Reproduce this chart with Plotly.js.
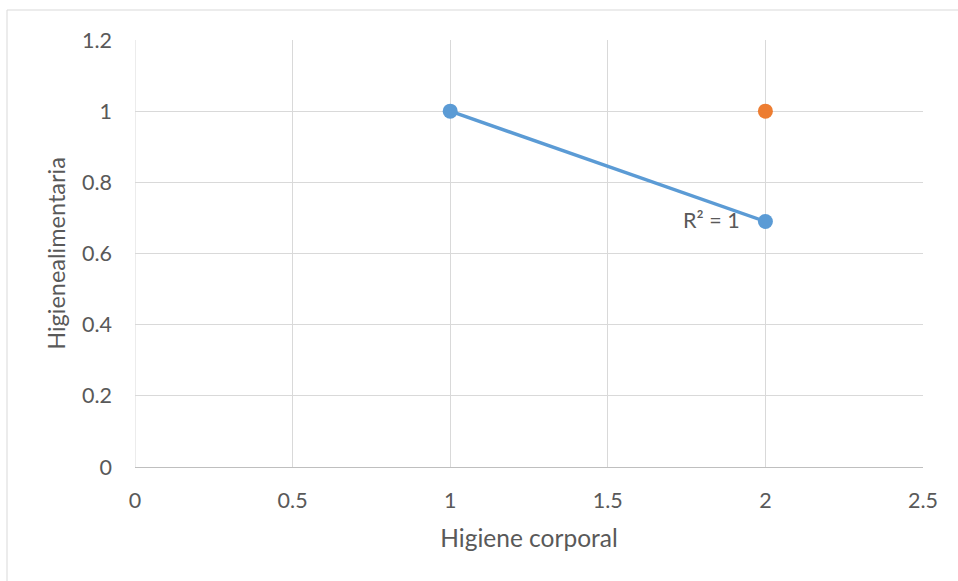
<!DOCTYPE html>
<html>
<head>
<meta charset="utf-8">
<script src="https://cdn.plot.ly/plotly-3.0.1.min.js"></script>
<style>
html,body{margin:0;padding:0;background:#fff;}
#chart{width:958px;height:581px;}
</style>
</head>
<body>
<div id="chart"></div>
<script>
// Data
const blueX = [1, 2];
const blueY = [1, 0.69];
const orangeX = [2];
const orangeY = [1];
const xTicks = [0, 0.5, 1, 1.5, 2, 2.5];
const yTicks = [0, 0.2, 0.4, 0.6, 0.8, 1, 1.2];
const xTitle = "Higiene corporal";
const yTitle = "Higienealimentaria";
const r2Label = "R² = 1";

// Linear trendline from blue data
function linfit(xs, ys) {
  const n = xs.length;
  const mx = xs.reduce((a, b) => a + b, 0) / n;
  const my = ys.reduce((a, b) => a + b, 0) / n;
  let sxy = 0, sxx = 0;
  for (let i = 0; i < n; i++) { sxy += (xs[i] - mx) * (ys[i] - my); sxx += (xs[i] - mx) ** 2; }
  const m = sxy / sxx;
  return { m: m, b: my - m * mx };
}
const fit = linfit(blueX, blueY);
const tX = [Math.min(...blueX), Math.max(...blueX)];
const tY = tX.map(x => fit.m * x + fit.b);

const font = "Lato, 'Open Sans', sans-serif";
const tickSize = 21.5;
const traces = [
  { x: tX, y: tY, mode: 'lines', line: { color: '#5B9BD5', width: 3.5 }, hoverinfo: 'skip', showlegend: false },
  { x: blueX, y: blueY, mode: 'markers', marker: { color: '#5B9BD5', size: 15 }, showlegend: false },
  { x: orangeX, y: orangeY, mode: 'markers', marker: { color: '#ED7D31', size: 15 }, showlegend: false }
];

const L = 135, R = 923, T = 40, B = 467;
const pw = R - L, ph = B - T;

const layout = {
  width: 958, height: 581,
  margin: { l: L, r: 958 - R, t: T, b: 581 - B, pad: 0 },
  paper_bgcolor: 'rgba(0,0,0,0)',
  plot_bgcolor: 'rgba(0,0,0,0)',
  font: { family: font, color: '#595959', size: tickSize },
  showlegend: false,
  xaxis: {
    range: [0, 2.5], tickvals: xTicks, ticktext: xTicks.map(String),
    showgrid: true, gridcolor: '#D9D9D9', gridwidth: 1,
    zeroline: false, showline: true, linecolor: '#BFBFBF', linewidth: 1,
    ticks: '', ticklabelstandoff: 14,
    tickfont: { size: tickSize, color: '#595959', family: font },
    title: { text: xTitle, font: { size: 24.5, color: '#595959', family: font }, standoff: 18 }
  },
  yaxis: {
    range: [0, 1.2], tickvals: yTicks, ticktext: yTicks.map(String),
    showgrid: true, gridcolor: '#D9D9D9', gridwidth: 1,
    zeroline: false, showline: false,
    ticks: '', ticklabelstandoff: 22,
    tickfont: { size: tickSize, color: '#595959', family: font },
    title: { text: yTitle, font: { size: 23.5, color: '#595959', family: font }, standoff: 9 }
  },
  shapes: [
    { type: 'rect', xref: 'paper', yref: 'paper', layer: 'below',
      x0: (7 - L) / pw, x1: (1100 - L) / pw,
      y0: (B - 800) / ph, y1: (B - 10) / ph,
      line: { color: '#D9D9D9', width: 1 }, fillcolor: 'rgba(0,0,0,0)' },
    { type: 'line', xref: 'x', yref: 'paper', x0: 0, x1: 0, y0: 0, y1: 1, layer: 'below',
      line: { color: '#D9D9D9', width: 1 } }
  ],
  annotations: [
    { x: blueX[1], y: blueY[1], xref: 'x', yref: 'y', text: r2Label, showarrow: false,
      xanchor: 'right', yanchor: 'middle', xshift: -23, yshift: 1,
      font: { size: tickSize, color: '#595959', family: font } }
  ]
};

Plotly.newPlot('chart', traces, layout, { displayModeBar: false, staticPlot: true });
</script>
</body>
</html>
